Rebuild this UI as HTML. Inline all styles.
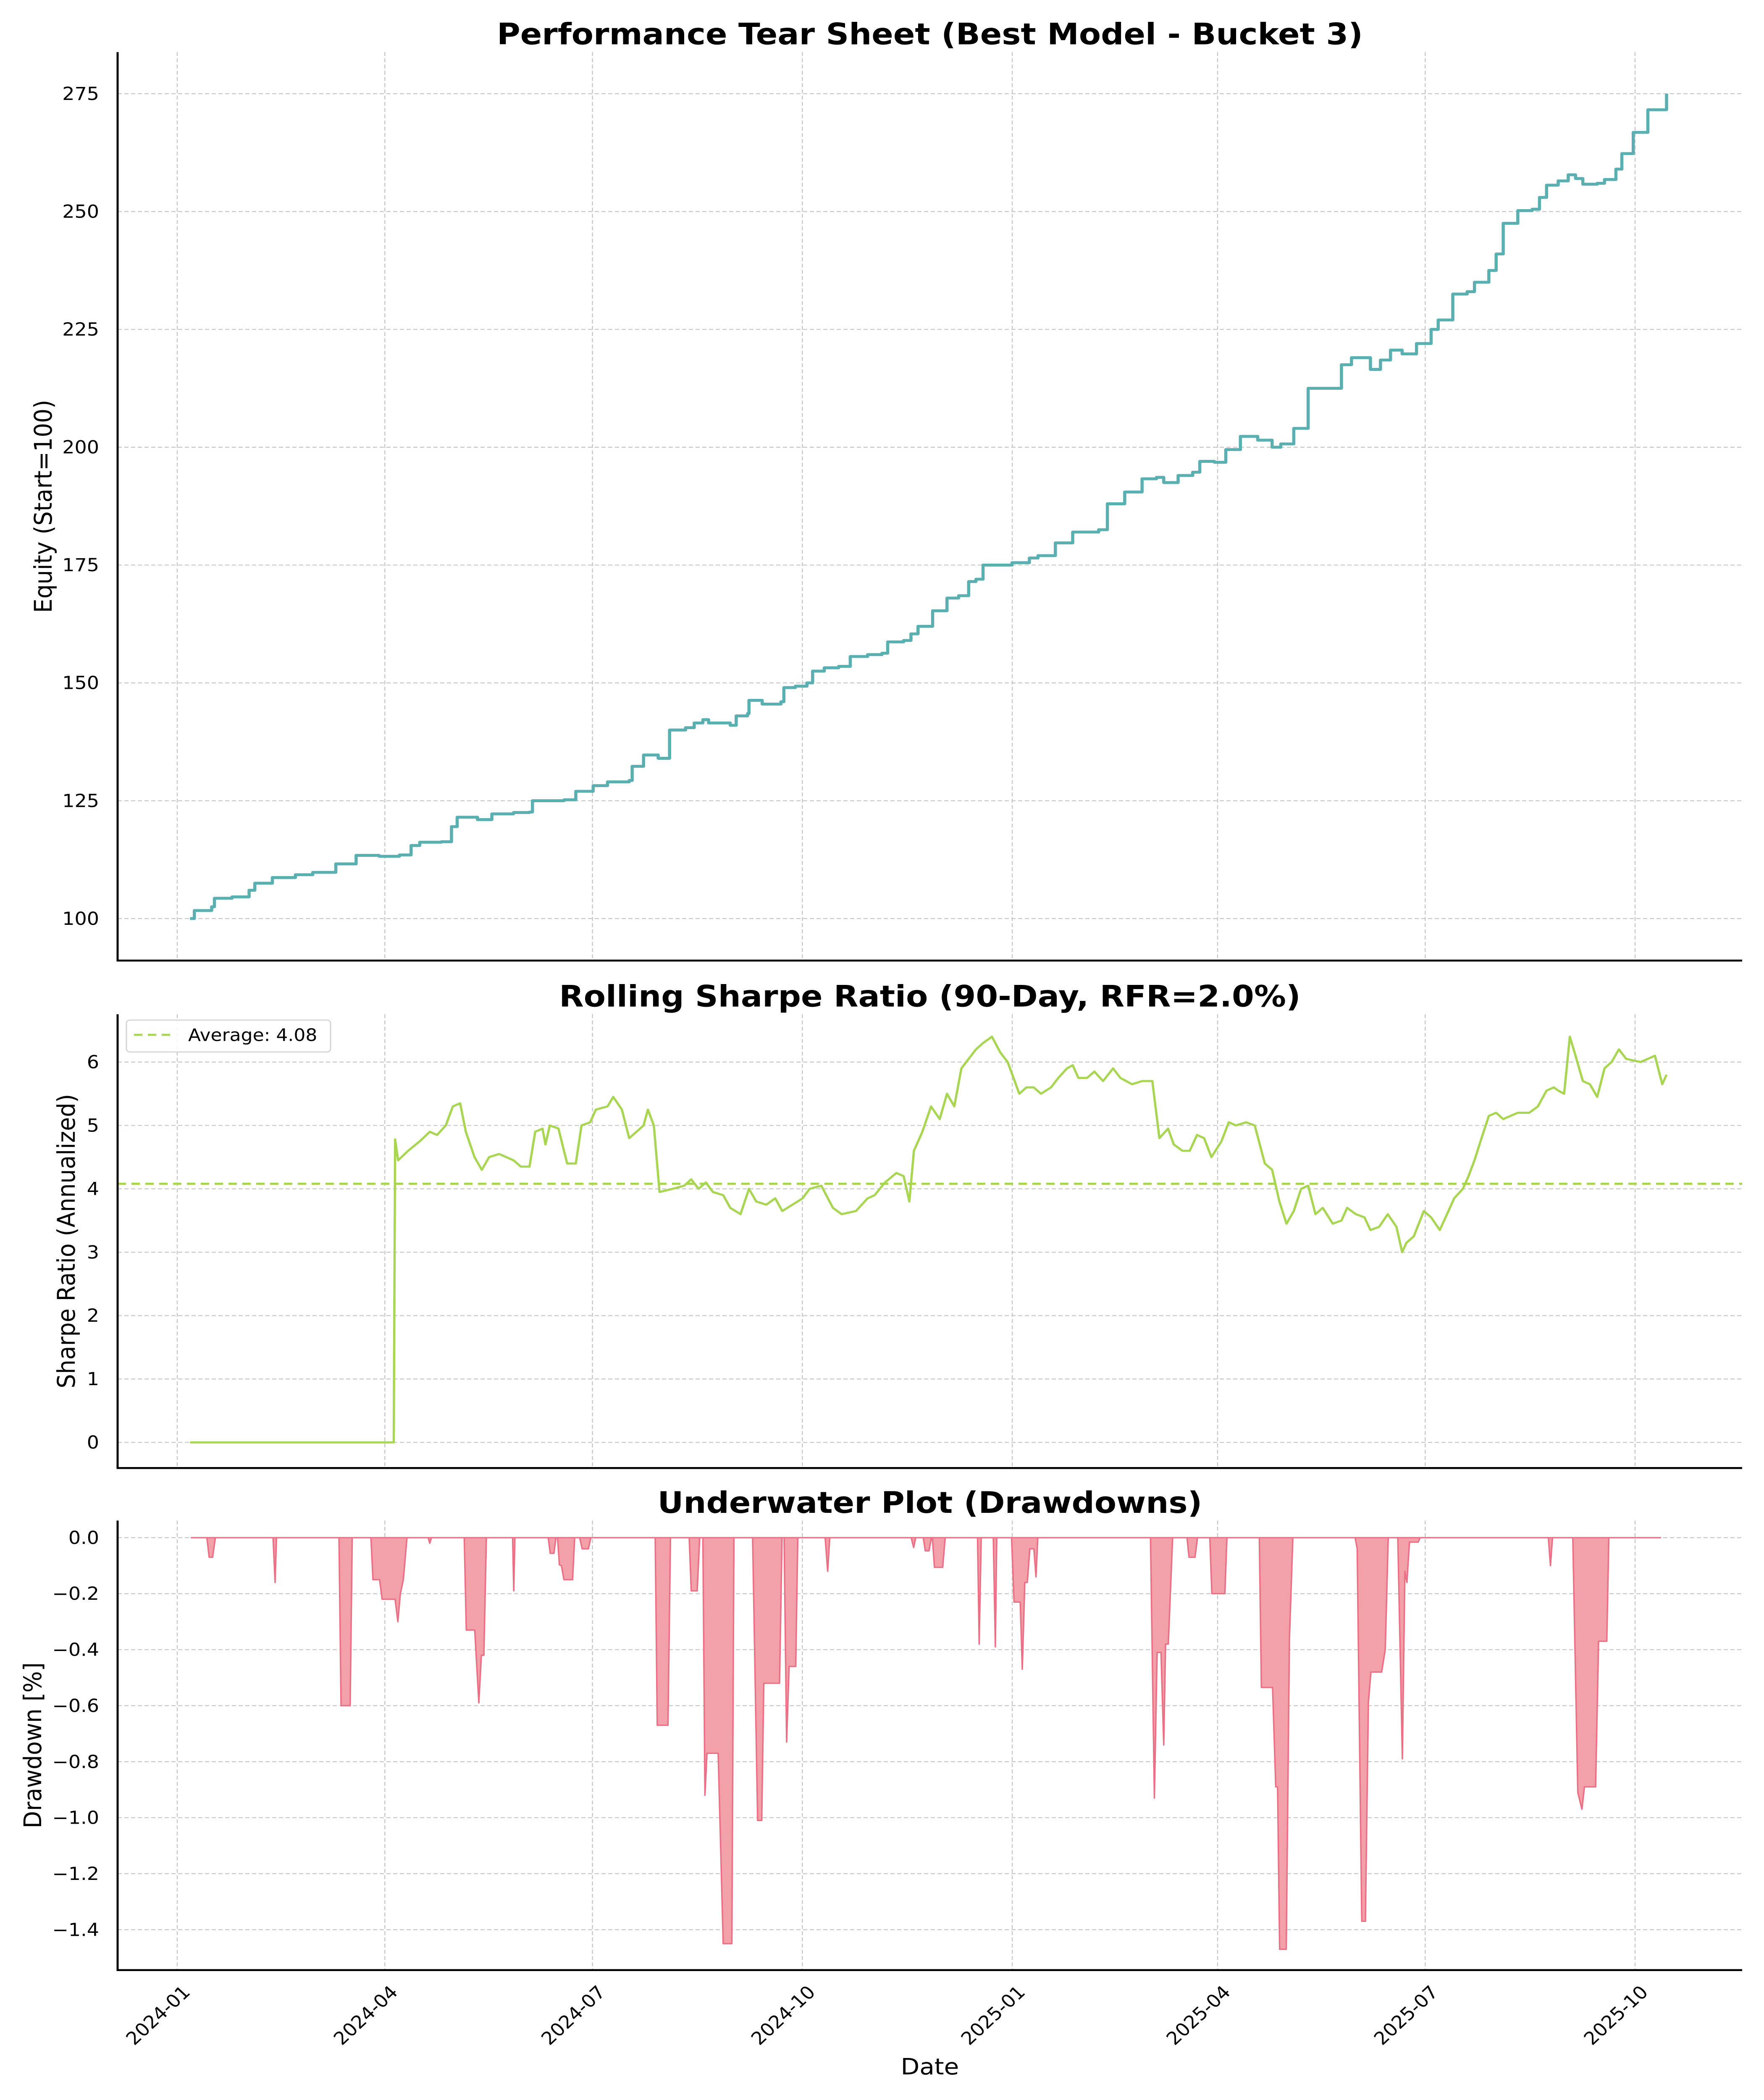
<!DOCTYPE html>
<html><head><meta charset="utf-8"><style>
html,body{margin:0;padding:0;background:#fff;overflow:hidden;}
svg{position:fixed;left:0;top:0;width:100vw;height:100vh;display:block;font-family:"DejaVu Sans","Liberation Sans",sans-serif;}
</style></head><body>
<svg id="fig" viewBox="0 0 4200 5400" preserveAspectRatio="none" xmlns="http://www.w3.org/2000/svg"></svg>
<script>
// ---- data (days since 2024-01-01) ----
const equityDays=[5.6,7.5,15.1,16.3,24,31.5,34,41.7,51.8,59.4,69.5,78.4,88.5,97.4,102.5,106.3,115.8,120.2,122.7,131.6,137.9,147.4,154.4,155.7,169.6,174.7,182.3,188.6,198.1,199.4,204.4,210.8,215.8,222.8,226.6,230.4,232.9,242.4,245,250,250.6,256.4,264.6,265.9,270.9,276,278.5,283.6,289.9,295,302.6,308.9,311.4,318.4,321.6,324.7,327.9,331.1,337.4,342.5,346.9,350.1,353.2,359.6,365.9,373.5,377.3,384.9,392.5,403.9,407.7,415.3,422.9,429.2,432.4,438.7,445.1,448.2,454.6,459.6,466,473.6,479.9,483.7,489.4,495.7,508.4,510.3,514.7,521.1,523,527.4,531.8,536.9,543.2,549.6,552.7,559.1,565.4,568.6,574.9,578.1,581.2,587.6,593.9,597.1,600.2,605.3,609.7,612.9,616.1,622.4,625.6,630.6,633.2,638.2,644.6,650.9,652.8];
const equityValues=[100,101.7,102.5,104.3,104.6,106,107.5,108.7,109.3,109.8,111.6,113.4,113.2,113.5,115.5,116.2,116.3,119.5,121.5,121,122.2,122.5,122.6,125,125.2,127,128.2,129,129.3,132.3,134.7,134,140,140.5,141.5,142.2,141.5,141,143,143.5,146.3,145.5,146,149,149.3,150,152.5,153.2,153.5,155.6,156,156.3,158.7,159,160.4,162,162,165.3,168,168.5,171.5,172,175,175,175.5,176.5,177,179.7,182,182.5,188,190.5,193.3,193.6,192.5,194,194.7,197,196.8,199.5,202.3,201.5,200,200.7,204,212.5,212.5,217.5,219,219,216.5,218.5,220.6,219.8,222,225,227,232.5,233,235,237.5,241,247.5,250.2,250.5,253,255.6,256.5,257.8,257,255.8,256,256.8,259,262.3,266.8,271.6,271.6,275];
const equityTicks=[100,125,150,175,200,225,250,275];

const sharpeDays=[5.6,94.9,95.5,96.8,101.2,106.3,110.7,113.9,117.7,120.8,124,126.5,130.3,133.5,136.7,141.1,147.4,150.6,154.4,156.9,160.1,161.4,163.3,167.1,170.9,174.7,177.2,181,183.5,188.6,191.1,194.9,198.1,201.3,204.4,206.3,208.9,211.4,217.1,222.2,225.3,228.5,231.7,234.8,239.3,242.4,246.9,250.6,253.8,258.2,262.1,265.2,269.7,274.1,277.2,282.3,287.4,291.2,297.5,302.6,305.7,310.2,315.2,318.4,320.9,322.9,326.6,330.4,334.2,337.4,340.6,343.7,346.9,350.1,353.2,357.1,360.8,364,369.1,372.2,375.4,378.6,383,386.2,390,392.5,395,398.8,402,405.8,410.2,413.4,418.5,422.9,427.4,430.5,434.3,436.8,440.6,443.8,447,450.1,453.3,457.7,460.9,464.1,468.5,472.3,476.7,479.9,483.1,486.2,489.4,492.6,495.7,498.9,502.1,506.5,510.3,512.8,516.6,520.4,523,526.8,530.6,534.4,536.9,538.8,542,546.4,549.6,553.4,557.2,559.7,563.5,566,568.6,571.7,574.9,578.1,581.2,584.4,587.6,592.6,596.4,600.2,603.4,605.3,607.9,610.4,612.9,616.1,619.2,622.4,625.6,628.7,631.9,635.1,641.4,647.7,650.9,652.8];
const sharpeValues=[0,0,4.78,4.45,4.6,4.75,4.9,4.85,5.0,5.3,5.35,4.9,4.5,4.3,4.5,4.55,4.45,4.35,4.35,4.9,4.95,4.7,5.0,4.95,4.4,4.4,5.0,5.05,5.25,5.3,5.45,5.25,4.8,4.9,5.0,5.25,5.0,3.95,4.0,4.05,4.15,4.0,4.1,3.95,3.9,3.7,3.6,4.0,3.8,3.75,3.85,3.65,3.75,3.85,4.0,4.05,3.7,3.6,3.65,3.85,3.9,4.1,4.25,4.2,3.8,4.6,4.9,5.3,5.1,5.5,5.3,5.9,6.05,6.2,6.3,6.4,6.15,6.0,5.5,5.6,5.6,5.5,5.6,5.75,5.9,5.95,5.75,5.75,5.85,5.7,5.9,5.75,5.65,5.7,5.7,4.8,4.95,4.7,4.6,4.6,4.85,4.8,4.5,4.75,5.05,5.0,5.05,5.0,4.4,4.3,3.8,3.45,3.65,4.0,4.05,3.6,3.7,3.45,3.5,3.7,3.6,3.55,3.35,3.4,3.6,3.4,3.0,3.15,3.25,3.65,3.55,3.35,3.65,3.85,4.0,4.2,4.45,4.8,5.15,5.2,5.1,5.15,5.2,5.2,5.3,5.55,5.6,5.55,5.5,6.4,6.1,5.7,5.65,5.45,5.9,6.0,6.2,6.05,6.0,6.1,5.65,5.8];
const sharpeAverage=[4.08];
const sharpeTicks=[0,1,2,3,4,5,6];

const ddDays=[6.2,13,14,15.5,16.7,42,42.9,43.5,70.9,71.8,75.8,76.7,84.9,85.8,88.7,89.8,95.5,96.7,97.8,99.1,100.7,110,110.7,111.4,125.8,126.7,130.4,132.2,133.3,134.4,135.5,147,147.5,148,162.6,163.5,165.1,166,166.7,167.5,168.4,169.5,173.3,174.2,176.4,177.5,180.2,181.3,209.5,210.4,215.1,216.2,224.4,225.3,227.9,229,230.4,231.3,232.2,237.1,239.3,243.1,244,252.2,254.4,256.2,257.1,264,265.1,266,267.1,268.2,271.1,272,284,285.1,286,321.7,322.8,323.7,327,327.9,329.5,330.6,331,331.9,335.5,336.6,350.8,351.5,352.4,357.7,358.6,359.2,365.7,366.8,369.5,370.4,371.5,372.6,373.7,375.5,376.4,377.2,426.6,428.3,429.5,431.2,432.4,433.2,434.4,436.3,442.6,443.5,446.1,447.2,452.6,453.5,459.2,460.1,474.3,475.2,480.1,481.5,482.3,483.2,486.1,487.5,489,516.3,517.2,519.2,520.8,522.1,523.2,527.9,529.5,530.8,535,537,538.1,539,540.1,543.9,544.8,601,601.9,602.8,611.7,613.9,615.7,616.8,621.7,623,626.6,627.5,650.1];
const ddValues=[0,0,-0.07,-0.07,0,0,-0.16,0,0,-0.6,-0.6,0,0,-0.15,-0.15,-0.22,-0.22,-0.3,-0.2,-0.15,0,0,-0.02,0,0,-0.33,-0.33,-0.59,-0.42,-0.42,0,0,-0.19,0,0,-0.056,-0.056,0,0,-0.097,-0.1,-0.15,-0.15,0,0,-0.04,-0.04,0,0,-0.67,-0.67,0,0,-0.19,-0.19,0,0,-0.92,-0.77,-0.77,-1.45,-1.45,0,0,-1.01,-1.01,-0.52,-0.52,0,0,-0.73,-0.46,-0.46,0,0,-0.12,0,0,-0.035,0,0,-0.047,-0.047,0,0,-0.106,-0.106,0,0,-0.38,0,0,-0.39,0,0,-0.23,-0.23,-0.47,-0.16,-0.16,-0.04,-0.04,-0.14,0,0,-0.93,-0.41,-0.41,-0.74,-0.38,-0.38,0,0,-0.07,-0.07,0,0,-0.2,-0.2,0,0,-0.535,-0.535,-0.89,-0.89,-1.47,-1.47,-0.36,0,0,-0.04,-1.37,-1.37,-0.59,-0.48,-0.48,-0.4,0,0,-0.79,-0.12,-0.16,-0.016,-0.016,0,0,-0.1,0,0,-0.91,-0.97,-0.89,-0.89,-0.37,-0.37,0,0];
const ddTicks=[0,-0.2,-0.4,-0.6,-0.8,-1.0,-1.2,-1.4];
const ddTickLabels=["0.0","\u22120.2","\u22120.4","\u22120.6","\u22120.8","\u22121.0","\u22121.2","\u22121.4"];

const xTickDays=[0,91,182,274,366,456,547,639];
const xTickLabels=["2024-01","2024-04","2024-07","2024-10","2025-01","2025-04","2025-07","2025-10"];

// ---- geometry ----
const NS="http://www.w3.org/2000/svg";
const svg=document.getElementById('fig');
const L=280,R=4148;
const xs=d=>422+d*5.432;
const P1={top:134,bot:2470,y:v=>241+(275-v)*12.12};
const P2={top:2608,bot:3775,y:v=>2731+(6-v)*163};
const P3={top:3910,bot:5066,y:v=>3954-v*720};
function mk(tag,attrs,parent){const e=document.createElementNS(NS,tag);for(const k in attrs)e.setAttribute(k,attrs[k]);(parent||svg).appendChild(e);return e;}
function txt(s,attrs,parent){const e=mk('text',attrs,parent);e.textContent=s;return e;}

function panel(P,name,ticks,labels,ylabel,ylx){
  const g=mk('g',{});
  
  
  ticks.forEach((t,i)=>{
    const y=P.y(t);
    const gl=mk('line',{x1:L,x2:R,y1:y,y2:y,stroke:'#c8c8c8','stroke-width':2.5,'stroke-dasharray':'10,6'},g);
    
    
    const tl=txt(labels[i],{x:236,y:y+16,'font-size':46,'text-anchor':'end',fill:'#000'},g);
    
    
  });
  xTickDays.forEach(d=>{
    const x=xs(d);
    const gl=mk('line',{x1:x,x2:x,y1:P.top,y2:P.bot,stroke:'#c8c8c8','stroke-width':2.5,'stroke-dasharray':'10,6'},g);
    
    
  });
  const cy=(P.top+P.bot)/2;
  const yl=txt(ylabel,{x:ylx,y:cy,'font-size':58,'text-anchor':'middle','dominant-baseline':'central',transform:`rotate(-90 ${ylx} ${cy})`},g);
  
  
  return g;
}
function spines(P,g){
  const a=mk('line',{x1:L,x2:L,y1:P.top,y2:P.bot+2,stroke:'#000','stroke-width':5},g);
  
  
  const b=mk('line',{x1:L-2,x2:R,y1:P.bot,y2:P.bot,stroke:'#000','stroke-width':5},g);
  
  
}
function title(s,y){const t=txt(s,{x:2214,y:y,'font-size':76,'font-weight':'bold','text-anchor':'middle'});
  
  }

// Panel 1 equity
const g1=panel(P1,'equity',equityTicks,equityTicks.map(String),'Equity (Start=100)',104);
let d1='';
equityDays.forEach((d,i)=>{const x=xs(d),y=P1.y(equityValues[i]);
  if(i===0)d1+=`M${x},${y}`;else d1+=`H${x}V${y}`;});
const eq=mk('path',{d:d1,fill:'none',stroke:'#5ab0b0','stroke-width':7.5,'stroke-linejoin':'round'},g1);


spines(P1,g1);
title('Performance Tear Sheet (Best Model - Bucket 3)',114);

// Panel 2 sharpe
const g2=panel(P2,'sharpe',sharpeTicks,sharpeTicks.map(String),'Sharpe Ratio (Annualized)',159);
const sp=mk('polyline',{points:sharpeDays.map((d,i)=>xs(d)+','+P2.y(sharpeValues[i])).join(' '),fill:'none',stroke:'#a8d653','stroke-width':5.5,'stroke-linejoin':'round'},g2);


const av=mk('line',{x1:L,x2:R,y1:P2.y(sharpeAverage[0]),y2:P2.y(sharpeAverage[0]),stroke:'#a8d653','stroke-width':5.5,'stroke-dasharray':'20,13'},g2);


const lg=mk('g',{},g2);


mk('rect',{x:301,y:2623,width:486,height:82,rx:8,fill:'rgba(255,255,255,0.85)',stroke:'#d6d6d6','stroke-width':3},lg);
const ll=mk('line',{x1:319,x2:410,y1:2661,y2:2661,stroke:'#a8d653','stroke-width':5.5,'stroke-dasharray':'20,13'},lg);


const lt=txt('Average: '+sharpeAverage[0].toFixed(2),{x:448,y:2677,'font-size':44},lg);


spines(P2,g2);
title('Rolling Sharpe Ratio (90-Day, RFR=2.0%)',2588);

// Panel 3 drawdown
const g3=panel(P3,'drawdown',ddTicks,ddTickLabels,'Drawdown [%]',79);
let d3=`M${xs(ddDays[0])},${P3.y(0)}`;
ddDays.forEach((d,i)=>{d3+=`L${xs(d)},${P3.y(ddValues[i])}`;});
d3+=`L${xs(ddDays[ddDays.length-1])},${P3.y(0)}Z`;
const ar=mk('path',{d:d3,fill:'#f2a0aa',stroke:'#ec7085','stroke-width':3.5,'stroke-linejoin':'round'},g3);


spines(P3,g3);
title('Underwater Plot (Drawdowns)',3890);

// x tick labels
xTickDays.forEach((d,i)=>{
  const x=xs(d)+10,y=5102;
  const t=txt(xTickLabels[i],{x:x,y:y,'font-size':46,'text-anchor':'end','dominant-baseline':'hanging',transform:`rotate(-45 ${x} ${y})`});
  
  
});
const xl=txt('Date',{x:2214,y:5334,'font-size':58,'text-anchor':'middle'});


</script>
</body></html>
